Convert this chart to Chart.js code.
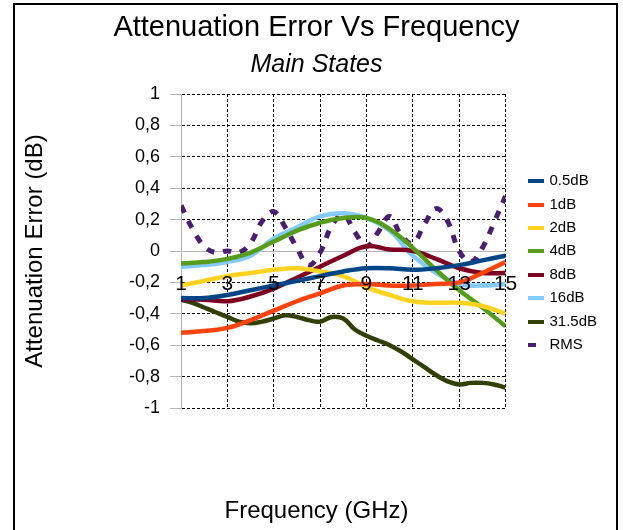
<!DOCTYPE html>
<html>
<head>
<meta charset="utf-8">
<script src="https://cdn.jsdelivr.net/npm/chart.js@4.4.1/dist/chart.umd.min.js"></script>
<style>
  body { margin: 0; background: #fff; }
  canvas { display: block; }
</style>
</head>
<body>
<canvas id="chart" width="623" height="530"></canvas>
<script>
// frequency points (GHz)
const freqs = [1, 2, 3, 4, 5, 6, 7, 8, 9, 10, 11, 12, 13, 14, 15];
const freqsFine = [1, 1.5, 2, 2.5, 3, 3.5, 4, 4.5, 5, 5.5, 6, 6.5, 7, 7.5, 8,
  8.5, 9, 9.5, 10, 10.5, 11, 11.5, 12, 12.5, 13, 13.5, 14, 14.5, 15];

// attenuation error (dB) per state
const err0_5dB = [-0.30, -0.30, -0.28, -0.25, -0.22, -0.19, -0.16, -0.13, -0.11, -0.11, -0.12, -0.11, -0.09, -0.06, -0.03];
const err1dB = [-0.52, -0.51, -0.49, -0.44, -0.38, -0.32, -0.27, -0.22, -0.21, -0.22, -0.22, -0.21, -0.20, -0.14, -0.07];
const err2dB = [-0.22, -0.19, -0.16, -0.14, -0.12, -0.11, -0.13, -0.16, -0.23, -0.28, -0.32, -0.33, -0.33, -0.35, -0.40];
const err4dB = [-0.08, -0.07, -0.05, -0.01, 0.06, 0.13, 0.18, 0.21, 0.21, 0.14, 0.02, -0.12, -0.25, -0.36, -0.48];
const err8dB = [-0.31, -0.31, -0.32, -0.29, -0.24, -0.17, -0.10, -0.03, 0.03, 0.01, 0.00, -0.05, -0.11, -0.14, -0.14];
const err16dB = [-0.10, -0.09, -0.07, -0.03, 0.08, 0.15, 0.22, 0.24, 0.21, 0.13, -0.03, -0.14, -0.21, -0.22, -0.21];
const err31_5dB = [-0.31, -0.33, -0.36, -0.39, -0.42, -0.45, -0.46, -0.45, -0.43, -0.41, -0.42, -0.44, -0.45, -0.42, -0.43,
  -0.50, -0.54, -0.57, -0.60, -0.64, -0.69, -0.74, -0.79, -0.83, -0.85, -0.84, -0.84, -0.85, -0.87];
const errRMS = [0.29, 0.14, 0.03, -0.01, 0.00, -0.01, 0.05, 0.19, 0.25, 0.15, 0.02, -0.09, -0.01, 0.16, 0.23,
  0.12, 0.03, 0.12, 0.22, 0.10, 0.05, 0.17, 0.27, 0.19, 0.00, -0.07, 0.02, 0.18, 0.35];

const seriesLabels = ["0.5dB", "1dB", "2dB", "4dB", "8dB", "16dB", "31.5dB", "RMS"];
const seriesColors = ["#004586", "#ff420e", "#ffd320", "#579d1c", "#7e0021", "#83caff", "#314004", "#4b1f6f"];
const seriesValues = [err0_5dB, err1dB, err2dB, err4dB, err8dB, err16dB, err31_5dB, errRMS];
const seriesFreqs = [freqs, freqs, freqs, freqs, freqs, freqs, freqsFine, freqsFine];

const FONT = "'Liberation Sans', Arial, sans-serif";

const datasets = seriesLabels.map(function (label, i) {
  const isRms = label === "RMS";
  return {
    label: label,
    data: seriesFreqs[i].map(function (f, j) { return { x: f, y: seriesValues[i][j] }; }),
    borderColor: seriesColors[i],
    backgroundColor: seriesColors[i],
    borderWidth: isRms ? 5 : 4.5,
    borderDash: isRms ? [8, 9] : [],
    borderCapStyle: "butt",
    pointRadius: 0,
    tension: 0.4,
    fill: false,
  };
});

// small line swatch for the legend
function swatch(color, dashed) {
  const c = document.createElement("canvas");
  c.width = 16;
  c.height = 4;
  const g = c.getContext("2d");
  g.fillStyle = color;
  g.fillRect(0, 0, dashed ? 8 : 16, 4);
  return c;
}

const framePlugin = {
  id: "frame",
  beforeDraw(chart) {
    const c = chart.ctx;
    c.save();
    c.fillStyle = "#fff";
    c.fillRect(0, 0, chart.width, chart.height);
    c.restore();
  },
  afterDraw(chart) {
    const c = chart.ctx;
    c.save();
    c.strokeStyle = "#000";
    c.lineWidth = 2;
    c.strokeRect(14, 4, 603, 600);
    c.restore();
  },
};

new Chart(document.getElementById("chart").getContext("2d"), {
  type: "line",
  data: { datasets: datasets },
  plugins: [framePlugin],
  options: {
    responsive: false,
    animation: false,
    layout: { padding: { left: 26, right: 16, top: 0, bottom: 4 } },
    plugins: {
      title: {
        display: true,
        text: "Attenuation Error Vs Frequency",
        color: "#000",
        font: { family: FONT, size: 29, weight: "normal" },
        padding: { top: 10.6, bottom: 0 },
      },
      subtitle: {
        display: true,
        text: "Main States",
        color: "#000",
        font: { family: FONT, size: 25, style: "italic", weight: "normal" },
        padding: { top: 4.6, bottom: 14 },
      },
      legend: {
        position: "right",
        align: "center",
        labels: {
          color: "#000",
          font: { family: FONT, size: 15 },
          usePointStyle: true,
          pointStyleWidth: 12,
          padding: 8.4,
          generateLabels: function (chart) {
            return chart.data.datasets.map(function (ds, i) {
              return {
                text: ds.label,
                pointStyle: swatch(ds.borderColor, ds.borderDash.length > 0),
                fillStyle: ds.borderColor,
                strokeStyle: ds.borderColor,
                lineWidth: 0,
                hidden: false,
                datasetIndex: i,
                fontColor: "#000",
              };
            });
          },
        },
      },
      tooltip: { enabled: false },
    },
    scales: {
      x: {
        type: "linear",
        min: 1,
        max: 15,
        position: { y: 0 },
        ticks: { stepSize: 2, color: "#000", font: { family: FONT, size: 21 }, padding: 21, maxRotation: 0, autoSkip: false, z: 1 },
        grid: { color: "#000", drawTicks: false },
        border: { display: true, color: "#b3b3b3", dash: [3, 2] },
      },
      x2: {
        type: "linear",
        position: "bottom",
        fullSize: true,
        grid: { display: false },
        ticks: { display: false },
        border: { display: false },
        title: {
          display: true,
          text: "Frequency (GHz)",
          color: "#000",
          font: { family: FONT, size: 24 },
          padding: { top: 0, bottom: 0 },
        },
        afterFit: function (s) { s.height = 118; },
      },
      y: {
        type: "linear",
        min: -1,
        max: 1,
        ticks: {
          stepSize: 0.2,
          color: "#000",
          font: { family: FONT, size: 18 },
          padding: 10,
          callback: function (v) { return String(Math.round(v * 10) / 10).replace(".", ","); },
        },
        grid: {
          color: function (ctx) { return ctx.tick && Math.abs(ctx.tick.value) < 1e-9 ? "rgba(0,0,0,0)" : "#000"; },
          tickColor: "#b3b3b3",
          tickLength: 11,
          tickBorderDash: [],
        },
        border: { display: true, color: "#b3b3b3", dash: [3, 2] },
        title: {
          display: true,
          text: "Attenuation Error (dB)",
          color: "#000",
          font: { family: FONT, size: 24 },
          padding: { top: -5.4, bottom: 0 },
        },
        afterFit: function (s) { s.width = 155; },
      },
      y2: {
        type: "linear",
        position: "right",
        grid: { display: false },
        ticks: { display: false },
        border: { display: false },
        afterFit: function (s) { s.width = 16; },
      },
    },
  },
});
</script>
</body>
</html>
